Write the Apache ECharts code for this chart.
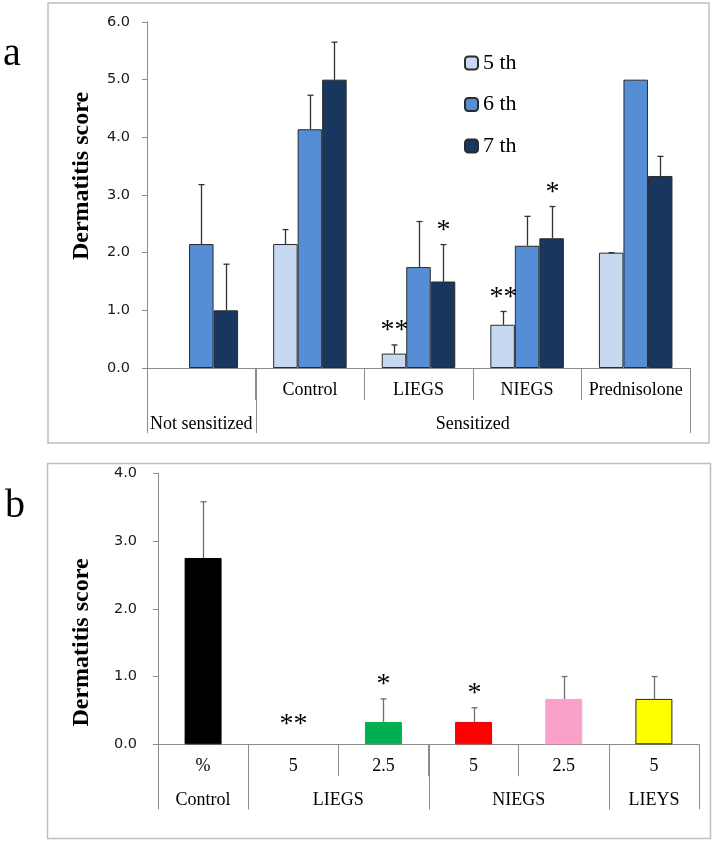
<!DOCTYPE html>
<html>
<head>
<meta charset="utf-8">
<script src="https://cdn.jsdelivr.net/npm/echarts@6/dist/echarts.min.js"></script>
<style>html,body{margin:0;padding:0;background:#fff;}#c{width:715px;height:843px;}</style>
</head>
<body>
<div id="c"></div>
<script>
// ---------- Panel a data ----------
var catsA = ['', 'Control', 'LIEGS', 'NIEGS', 'Prednisolone'];
var seriesNamesA = ['5 th', '6 th', '7 th'];
var week5 = [0, 2.15, 0.25, 0.75, 2.0];
var week6 = [2.15, 4.14, 1.75, 2.12, 5.0];
var week7 = [1.0, 5.0, 1.5, 2.25, 3.33];
var err5 = [null, 0.25, 0.15, 0.23, 0];
var err6 = [1.03, 0.59, 0.79, 0.51, null];
var err7 = [0.80, 0.65, 0.64, 0.55, 0.34];
var stars5 = ['', '', '**', '**', ''];
var stars6 = ['', '', '', '', ''];
var stars7 = ['', '', '*', '*', ''];
var groupsA = [['Not sensitized', 0, 1], ['Sensitized', 1, 5]];

// ---------- Panel b data ----------
var catsB = ['%', '5', '2.5', '5', '2.5', '5'];
var valuesB = [2.75, 0, 0.33, 0.33, 0.67, 0.67];
var errB = [0.83, null, 0.34, 0.21, 0.33, 0.33];
var starsB = ['', '**', '*', '*', '', ''];
var groupsB = [['Control', 0, 1], ['LIEGS', 1, 3], ['NIEGS', 3, 5], ['LIEYS', 5, 6]];

var yTitle = 'Dermatitis score';

var colorsA = ['#C6D9F1', '#558ED5', '#17375E'];
var colorsB = ['#000000', '#000000', '#00B050', '#FF0000', '#F9A1C9', '#FFFF00'];
var bordersB = ['#000000', '#000000', '#00B050', '#E00000', '#F9A1C9', '#262626'];

var SERIF = '"Liberation Serif", "Times New Roman", serif';
var SANS = '"DejaVu Sans", sans-serif';
var AX = '#8C8C8C';
var fracA = 0.2257;
var fracB = 0.41;

var chart = echarts.init(document.getElementById('c'), null, {renderer: 'canvas'});

function yAxisCfg(gridIndex, max) {
  return {
    type: 'value', gridIndex: gridIndex, min: 0, max: max, interval: 1,
    axisLine: {show: true, lineStyle: {color: AX, width: 1}},
    axisTick: {show: true, length: 5, lineStyle: {color: AX}},
    splitLine: {show: false},
    axisLabel: {fontFamily: SANS, fontSize: 14.5, color: '#1a1a1a', margin: gridIndex === 0 ? 17 : 21,
      formatter: function (v) { return v.toFixed(1); }}
  };
}

function catAxisCfg(gridIndex, cats) {
  return {
    type: 'category', gridIndex: gridIndex, data: cats,
    axisLine: {show: true, lineStyle: {color: AX, width: 1}},
    axisTick: {show: true, interval: 0, length: 32, lineStyle: {color: AX}},
    axisLabel: {interval: 0, fontFamily: SERIF, fontSize: 18, color: '#000', margin: 13},
    splitLine: {show: false}
  };
}

function groupSeries(gridIndex, xIdx, groups) {
  return {
    type: 'custom', xAxisIndex: xIdx, yAxisIndex: gridIndex, silent: true, clip: false, z: 5,
    data: groups.map(function (g) { return [g[1], g[2]]; }),
    renderItem: function (params, api) {
      var s = api.coord([api.value(0), 0]);
      var e = api.coord([api.value(1), 0]);
      var g = groups[params.dataIndex];
      var ls = {stroke: AX, lineWidth: 1};
      return {type: 'group', children: [
        {type: 'line', shape: {x1: Math.round(s[0]) + 0.5, y1: s[1], x2: Math.round(s[0]) + 0.5, y2: s[1] + 65}, style: ls},
        {type: 'line', shape: {x1: Math.round(e[0]) + 0.5, y1: e[1], x2: Math.round(e[0]) + 0.5, y2: e[1] + 65}, style: ls},
        {type: 'text', x: (s[0] + e[0]) / 2, y: s[1] + 56,
          style: {text: g[0], fontFamily: SERIF, fontSize: 18, fill: '#000', align: 'center', verticalAlign: 'middle'}}
      ]};
    }
  };
}

function errSeries(gridIndex, vals, errs, stars, slot, frac, color, capHalf) {
  return {
    type: 'custom', xAxisIndex: gridIndex * 2, yAxisIndex: gridIndex, silent: true, clip: false, z: 6,
    data: vals.map(function (v, i) { return [i, v, errs[i] == null ? 0 : errs[i]]; }),
    renderItem: function (params, api) {
      var i = params.dataIndex;
      var c = api.value(0), v = api.value(1), e = api.value(2);
      var bw = api.size([1, 0])[0] * frac;
      var base = api.coord([c, v]);
      var x = Math.round(base[0] + slot * bw) + 0.5;
      var top = api.coord([c, v + e]);
      var kids = [];
      var ls = {stroke: color, lineWidth: 1.3};
      if (errs[i] != null) {
        kids.push({type: 'line', shape: {x1: x, y1: base[1], x2: x, y2: top[1]}, style: ls});
        kids.push({type: 'line', shape: {x1: x - capHalf, y1: top[1], x2: x + capHalf, y2: top[1]}, style: ls});
      }
      if (stars[i]) {
        var yy = errs[i] != null ? top[1] - 14 : base[1] - 20;
        kids.push({type: 'text', x: x, y: yy,
          style: {text: stars[i], fontFamily: SERIF, fontSize: 28, fill: '#000',
            align: 'center', verticalAlign: 'middle'}});
      }
      return {type: 'group', children: kids};
    }
  };
}

var seriesA = [week5, week6, week7];
var errsA = [err5, err6, err7];
var starsA = [stars5, stars6, stars7];

var series = [];
seriesA.forEach(function (d, k) {
  series.push({
    type: 'bar', name: seriesNamesA[k], xAxisIndex: 0, yAxisIndex: 0,
    data: d.map(function (v) { return {value: v, itemStyle: {borderWidth: v === 0 ? 0 : 1}}; }),
    barWidth: (fracA * 100) + '%', barGap: '0%',
    itemStyle: {color: colorsA[k], borderColor: '#2b2b2b', borderWidth: 1},
    emphasis: {disabled: true}
  });
});
seriesA.forEach(function (d, k) {
  series.push(errSeries(0, d, errsA[k], starsA[k], k - 1, fracA, '#333333', 3));
});
series.push(groupSeries(0, 1, groupsA));

series.push({
  type: 'bar', name: 'b', xAxisIndex: 2, yAxisIndex: 1,
  data: valuesB.map(function (v, i) {
    return {value: v, itemStyle: {color: colorsB[i], borderColor: bordersB[i], borderWidth: v === 0 ? 0 : 1}};
  }),
  barWidth: (fracB * 100) + '%', emphasis: {disabled: true}
});
series.push(errSeries(1, valuesB, errB, starsB, 0, fracB, '#6e6e6e', 3));
series.push(groupSeries(1, 3, groupsB));

chart.setOption({
  animation: false,
  backgroundColor: '#fff',
  grid: [
    {left: 147, right: 25, top: 22, height: 346, containLabel: false},
    {left: 158, right: 16, top: 473.3, height: 271, containLabel: false}
  ],
  xAxis: [
    catAxisCfg(0, catsA),
    {type: 'value', gridIndex: 0, min: 0, max: catsA.length, show: false},
    catAxisCfg(1, catsB),
    {type: 'value', gridIndex: 1, min: 0, max: catsB.length, show: false}
  ],
  yAxis: [yAxisCfg(0, 6), yAxisCfg(1, 4)],
  legend: {
    data: seriesNamesA, orient: 'vertical', left: 459, top: 47,
    itemWidth: 13, itemHeight: 13, itemGap: 19.5,
    textStyle: {fontFamily: SERIF, fontSize: 22, color: '#000'},
    selectedMode: false
  },
  graphic: [
    {type: 'rect', shape: {x: 48, y: 3, width: 661, height: 440}, style: {fill: 'none', stroke: '#BFBFBF', lineWidth: 1.5}, z: 0},
    {type: 'rect', shape: {x: 47.5, y: 463.5, width: 663, height: 375}, style: {fill: 'none', stroke: '#BFBFBF', lineWidth: 1.5}, z: 0},
    {type: 'text', x: 3, y: 34, style: {text: 'a', fontFamily: SERIF, fontSize: 40, fill: '#000'}},
    {type: 'text', x: 5, y: 486, style: {text: 'b', fontFamily: SERIF, fontSize: 40, fill: '#000'}},
    {type: 'text', x: 82, y: 176, rotation: Math.PI / 2,
      style: {text: yTitle, fontFamily: SERIF, fontWeight: 'bold', fontSize: 24, fill: '#000', align: 'center', verticalAlign: 'middle'}},
    {type: 'text', x: 82, y: 642.5, rotation: Math.PI / 2,
      style: {text: yTitle, fontFamily: SERIF, fontWeight: 'bold', fontSize: 24, fill: '#000', align: 'center', verticalAlign: 'middle'}}
  ],
  series: series
});
</script>
</body>
</html>
